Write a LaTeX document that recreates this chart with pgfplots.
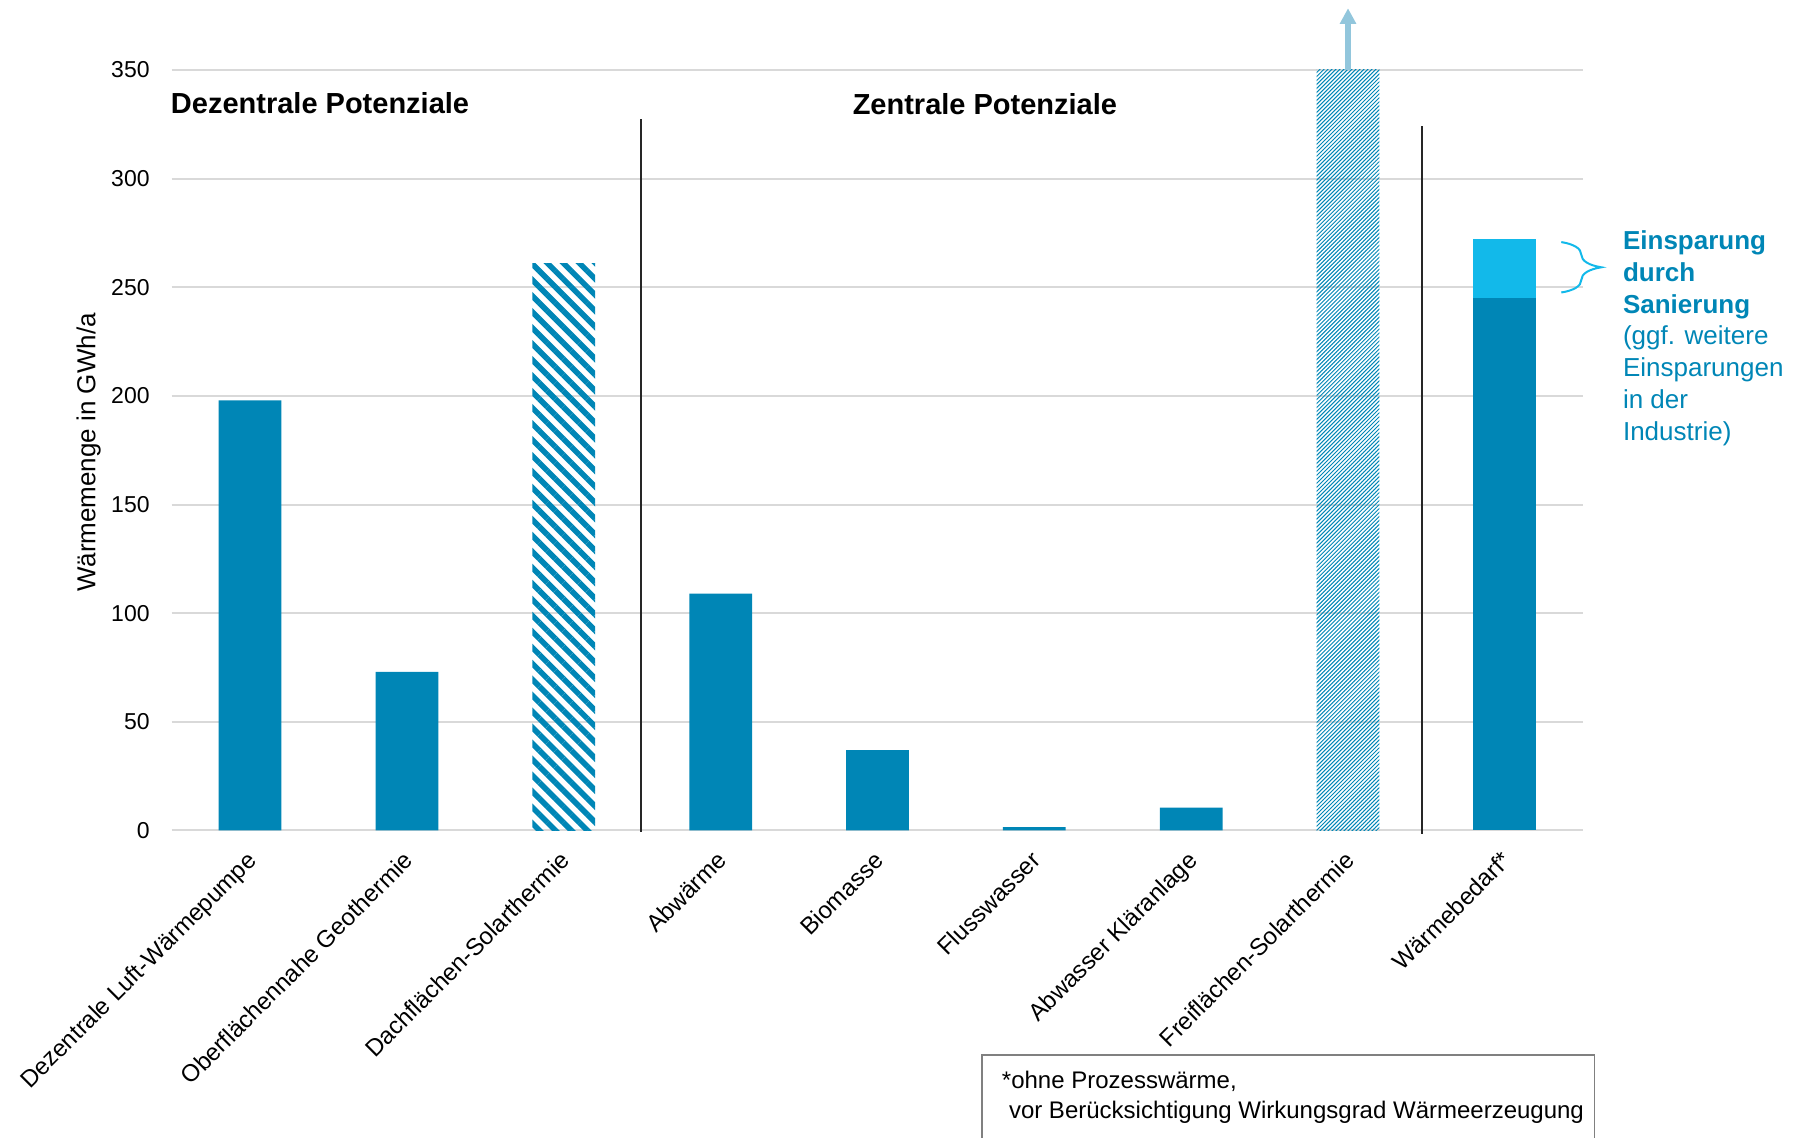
\documentclass[border=0pt]{standalone}
\usepackage{pgfplots}
\pgfplotsset{compat=1.18}
\usepackage{fontspec}
\setmainfont{Liberation Sans}
\usetikzlibrary{patterns.meta, arrows.meta, decorations.pathreplacing}

\definecolor{dblue}{RGB}{0,134,182}
\definecolor{lblue}{RGB}{18,185,234}
\definecolor{arrowc}{RGB}{146,198,220}
\definecolor{gridc}{RGB}{217,217,217}
\definecolor{sepc}{RGB}{38,38,38}
\definecolor{boxc}{RGB}{128,128,128}

\begin{document}
\begin{tikzpicture}
\begin{axis}[
  scale only axis, width=705.8pt, height=380.25pt,
  xmin=-0.5, xmax=8.5, ymin=0, ymax=350,
  clip=false,
  axis line style={draw=none},
  major tick length=0pt,
  ytick={0,50,...,350},
  ymajorgrids, grid style={gridc, line width=1pt},
  xtick={0,...,8},
  xticklabels={Dezentrale Luft-Wärmepumpe, Oberflächennahe Geothermie, Dachflächen-Solarthermie, Abwärme, Biomasse, Flusswasser, Abwasser Kläranlage, Freiflächen-Solarthermie, Wärmebedarf*},
  /pgf/number format/assume math mode=true,
  yticklabel style={font=\fontsize{11.5}{13}\selectfont, anchor=east, inner sep=0pt, xshift=-10.85pt},
  xticklabel style={font=\fontsize{12}{14}\selectfont, rotate=45, anchor=north east, inner sep=0pt, xshift=-8.4pt, yshift=-5pt},
  ylabel={Wärmemenge in GWh/a},
  ylabel style={at={(axis description cs:-0.0588,0.497)}, anchor=center, font=\fontsize{13}{15}\selectfont},
]
\addplot[ybar, bar width=0.4, bar shift=0pt, fill=dblue, draw=none] coordinates {(0,198) (1,73) (3,109) (4,37) (5,1.5) (6,10.5)};
\addplot[ybar, bar width=0.4, bar shift=0pt, draw=none, pattern={Lines[angle=-45,distance=5.65pt,line width=2.8pt]}, pattern color=dblue] coordinates {(2,261)};
\addplot[ybar, bar width=0.4, bar shift=0pt, draw=none, pattern={Lines[angle=45,distance=1.41pt,line width=0.5pt]}, pattern color=dblue] coordinates {(7,350)};
\addplot[ybar, bar width=0.4, bar shift=0pt, fill=lblue, draw=none] coordinates {(8,272)};
\addplot[ybar, bar width=0.4, bar shift=0pt, fill=dblue, draw=none] coordinates {(8,245)};

\draw[sepc, line width=1pt] (axis cs:2.49,-0.5) -- (axis cs:2.49,327.6);
\draw[sepc, line width=1pt] (axis cs:7.47,-1.6) -- (axis cs:7.47,324.2);

\draw[arrowc, line width=2.8pt, -{Triangle[width=7.8pt,length=7.8pt]}] (axis cs:7,350) -- (axis cs:7,378.4);

\draw[lblue, line width=1pt, decorate, decoration={brace, amplitude=20pt}] (axis cs:8.36,270.8) -- (axis cs:8.36,247.6);

\node[anchor=base west, inner sep=0pt, font=\fontsize{14.5}{17}\selectfont\bfseries] at (axis cs:-0.507,330) {Dezentrale Potenziale};
\node[anchor=base, inner sep=0pt, font=\fontsize{14.5}{17}\selectfont\bfseries] at (axis cs:4.685,329.7) {Zentrale Potenziale};

\begin{scope}[every node/.style={anchor=base west, inner sep=0pt, text=dblue, font=\fontsize{13}{15}\selectfont}]
\node[font=\fontsize{13}{15}\selectfont\bfseries] at (axis cs:8.751,267.5) {Einsparung};
\node[font=\fontsize{13}{15}\selectfont\bfseries] at (axis cs:8.751,252.82) {durch};
\node[font=\fontsize{13}{15}\selectfont\bfseries] at (axis cs:8.751,238.14) {Sanierung};
\node at (axis cs:8.751,223.46) {(ggf. weitere};
\node at (axis cs:8.751,208.78) {Einsparungen};
\node at (axis cs:8.751,194.1) {in der};
\node at (axis cs:8.751,179.42) {Industrie)};
\end{scope}

\draw[boxc, line width=0.75pt] (axis cs:4.667,-103.3) rectangle (axis cs:8.572,-170);
\node[anchor=base west, inner sep=0pt, font=\fontsize{12}{14}\selectfont] at (axis cs:4.791,-118.8) {*ohne Prozesswärme,};
\node[anchor=base west, inner sep=0pt, font=\fontsize{12}{14}\selectfont] at (axis cs:4.836,-132.4) {vor Berücksichtigung Wirkungsgrad Wärmeerzeugung};
\end{axis}
\pgfresetboundingbox
\path[use as bounding box] (-85.85pt,-153.75pt) rectangle (817.15pt,415.25pt);
\end{tikzpicture}
\end{document}
